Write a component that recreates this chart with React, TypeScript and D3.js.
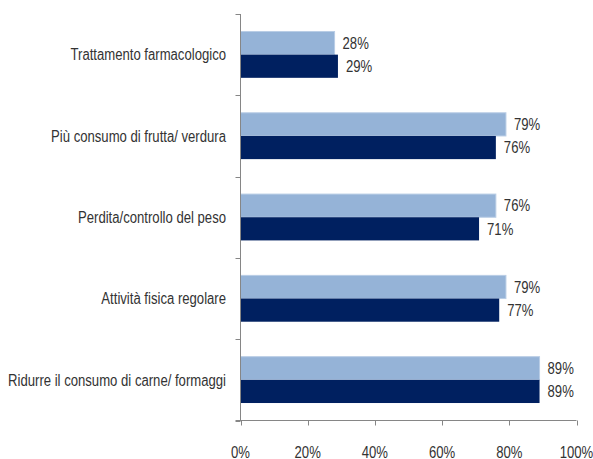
import React from "react";
import * as d3 from "d3";

const categories = [
  "Trattamento farmacologico",
  "Più consumo di frutta/ verdura",
  "Perdita/controllo del peso",
  "Attività fisica regolare",
  "Ridurre il consumo di carne/ formaggi",
];
const seriesLight = [28, 79, 76, 79, 89];
const seriesDark = [29, 76, 71, 77, 89];
const xTicks = [0, 20, 40, 60, 80, 100];

const W = 593;
const H = 459;
const left = 240.5;
const right = 576.5;
const top = 14;
const bottom = 420.5;
const FONT = "'Liberation Sans', Arial, sans-serif";
const SX = 0.82;

function T({ x, y, anchor = "start", children }: { x: number; y: number; anchor?: string; children: React.ReactNode }) {
  return (
    <text
      transform={`translate(${x},${y}) scale(${SX},1)`}
      dy="0.36em"
      textAnchor={anchor}
      fontFamily={FONT}
      fontSize={16}
      fill="#333"
    >
      {children}
    </text>
  );
}

export default function App() {
  const x = d3.scaleLinear().domain([0, 100]).range([left, right]);
  const y = d3.scaleBand<string>().domain(categories).range([top, bottom]).paddingInner(0).paddingOuter(0);
  const bw = y.bandwidth();
  const barH = bw * 0.285;
  const offset = (bw - 2 * barH) / 2;
  const edges = d3.range(categories.length + 1).map((i) => top + i * bw);

  return (
    <svg width={W} height={H} style={{ position: "absolute", left: 0, top: 0, background: "#fff" }}>
      {categories.map((c, i) => {
        const y0 = (y(c) as number) + offset;
        return (
          <g key={c}>
            <rect x={x(0)} y={y0} width={x(seriesLight[i]) - x(0)} height={barH} fill="#95B3D7" stroke="#B9CDE5" strokeWidth={1} />
            <rect x={x(0)} y={y0 + barH} width={x(seriesDark[i]) - x(0)} height={barH} fill="#002060" />
            <T x={x(seriesLight[i]) + 8} y={y0 + barH / 2}>{seriesLight[i]}%</T>
            <T x={x(seriesDark[i]) + 8} y={y0 + barH * 1.5}>{seriesDark[i]}%</T>
            <T x={226} y={(y(c) as number) + bw / 2} anchor="end">{c}</T>
          </g>
        );
      })}
      <line x1={left} x2={left} y1={top} y2={bottom} stroke="#868686" />
      {edges.map((e, i) => (
        <line key={i} x1={left - 5} x2={left} y1={Math.round(e) + 0.5} y2={Math.round(e) + 0.5} stroke="#868686" />
      ))}
      <line x1={left - 5} x2={right} y1={bottom} y2={bottom} stroke="#868686" />
      {xTicks.map((t) => (
        <g key={t}>
          <line x1={Math.round(x(t)) + 0.5} x2={Math.round(x(t)) + 0.5} y1={bottom} y2={bottom + 5} stroke="#868686" />
          <T x={x(t)} y={452} anchor="middle">{t}%</T>
        </g>
      ))}
    </svg>
  );
}
